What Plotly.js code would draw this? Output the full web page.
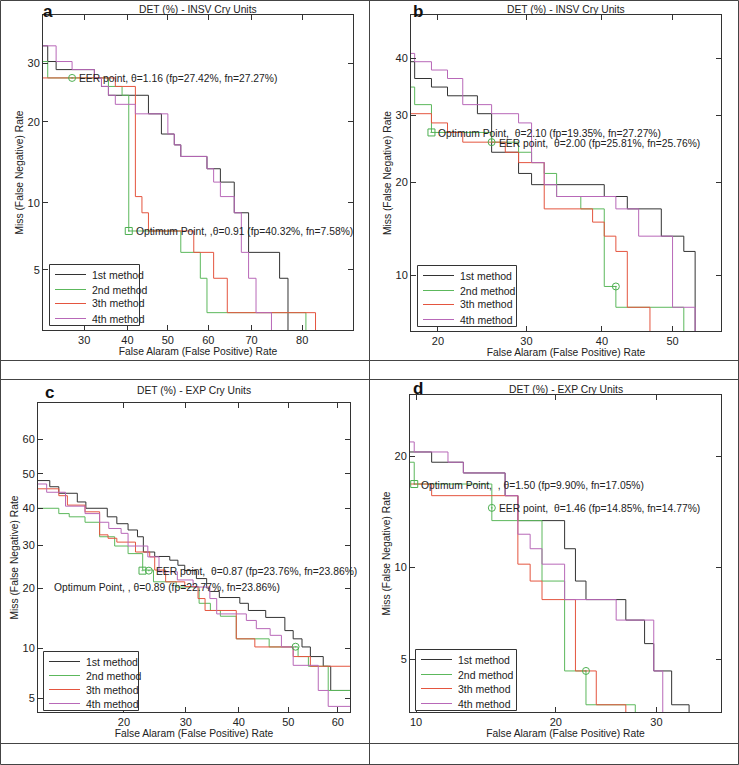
<!DOCTYPE html>
<html><head><meta charset="utf-8">
<script src="https://cdn.plot.ly/plotly-3.0.1.min.js"></script>
<style>html,body{margin:0;padding:0;background:#fff}#chart{width:739px;height:765px}</style>
</head><body><div id="chart"></div>
<script>
// ---------------- DATA (percent) ----------------
const methods = ['1st method', '2nd method', '3th method', '4th method'];

// Panel a: DET (%) - INSV Cry Units
const a_m1_fp = [20, 22.58, 24.19, 32.26, 33.87, 35.48, 45.16, 48.39, 51.61, 53.23, 59.68, 62.90, 66.13, 69.35, 75.81, 77.42];
const a_m1_fn = [33.33, 30.30, 28.79, 27.27, 25.76, 24.24, 21.21, 18.18, 16.67, 15.15, 13.64, 12.12, 9.09, 6.06, 4.55, 1.0];
const a_m2_fp = [20, 22.58, 35.48, 38.71, 40.32, 53.23, 58.06, 59.68, 80.65];
const a_m2_fn = [30.30, 27.27, 25.76, 24.24, 7.58, 6.06, 4.55, 3.03, 1.0];
const a_m3_fp = [20, 37.10, 41.94, 43.55, 45.16, 56.45, 61.29, 64.52, 82.26];
const a_m3_fn = [27.27, 25.76, 10.61, 9.09, 7.58, 6.06, 4.55, 3.03, 1.0];
const a_m4_fp = [20, 24.19, 27.42, 32.26, 33.87, 35.48, 37.10, 41.94, 50.00, 51.61, 53.23, 59.68, 61.29, 62.90, 66.13, 67.74, 69.35, 70.97, 74.19];
const a_m4_fn = [33.33, 30.30, 28.79, 27.27, 25.76, 24.24, 22.73, 21.21, 18.18, 16.67, 15.15, 13.64, 12.12, 10.61, 9.09, 6.06, 4.55, 3.03, 1.0];
const a_pts_fp = [27.42, 40.32];
const a_pts_fn = [27.27, 7.58];
const a_pts_sym = ['circle-open-dot', 'square-open-dot'];
const a_pts_txt = ['EER point, \u03b8=1.16 (fp=27.42%, fn=27.27%)', 'Optimum Point, ,\u03b8=0.91 (fp=40.32%, fn=7.58%)'];

// Panel b: DET (%) - INSV Cry Units
const b_m1_fp = [17, 17.74, 19.35, 20.97, 24.19, 25.81, 29.03, 30.65, 40.32, 43.55, 48.39, 51.61, 53.23];
const b_m1_fn = [39.39, 36.36, 34.85, 33.33, 30.30, 24.24, 21.21, 19.70, 18.18, 16.67, 13.64, 12.12, 3.0];
const b_m2_fp = [17, 17.74, 19.35, 25.81, 29.03, 30.65, 32.26, 33.87, 37.10, 40.32, 41.94, 51.61];
const b_m2_fn = [34.85, 31.82, 27.27, 25.76, 24.24, 22.73, 21.21, 18.18, 16.67, 9.09, 7.58, 3.0];
const b_m3_fp = [17, 19.35, 20.97, 22.58, 27.42, 29.03, 32.26, 38.71, 40.32, 41.94, 43.55, 46.77];
const b_m3_fn = [30.30, 28.79, 27.27, 25.76, 24.24, 22.73, 16.67, 15.15, 13.64, 12.12, 7.58, 3.0];
const b_m4_fp = [17, 17.74, 19.35, 20.97, 22.58, 25.81, 29.03, 30.65, 32.26, 33.87, 41.94, 45.16, 50.00, 53.23];
const b_m4_fn = [40.91, 39.39, 37.88, 36.36, 31.82, 30.30, 28.79, 22.73, 19.70, 18.18, 16.67, 13.64, 7.58, 3.0];
const b_pts_fp = [19.35, 25.81, 41.94];
const b_pts_fn = [27.27, 25.76, 9.09];
const b_pts_sym = ['square-open-dot', 'circle-open-dot', 'circle-open-dot'];
const b_pts_txt = ['Optimum Point,  \u03b8=2.10 (fp=19.35%, fn=27.27%)', 'EER point,  \u03b8=2.00 (fp=25.81%, fn=25.76%)', ''];

// Panel c: DET (%) - EXP Cry Units
const c_m1_fp = [9.5, 11.1, 12.0, 14.0, 15.0, 17.7, 19.0, 20.6, 22.0, 22.9, 24.7, 27.2, 28.6, 29.8, 31.9, 33.8, 34.3, 36.2, 40.2, 41.9, 45.4, 49.3, 51.0, 52.8, 54.5, 57.1, 58.6, 65];
const c_m1_fn = [48.0, 46.2, 44.3, 41.8, 40.0, 37.6, 35.7, 34.0, 32.2, 28.3, 27.2, 26.3, 25.1, 23.9, 22.1, 20.1, 19.4, 18.2, 17.1, 15.8, 14.6, 12.5, 11.3, 10.2, 9.0, 7.9, 5.6, 5.6];
const c_m2_fp = [9.5, 12.0, 13.1, 14.9, 16.7, 18.7, 20.6, 22.8, 24.5, 28.3, 32.4, 34.5, 36.4, 39.5, 46.1, 52.0, 54.1, 58.1, 65];
const c_m2_fn = [40.0, 38.5, 37.6, 36.1, 32.2, 29.8, 27.9, 24.0, 21.4, 20.3, 17.1, 15.8, 14.8, 11.3, 10.2, 9.0, 7.9, 5.6, 5.6];
const c_m3_fp = [9.5, 12.0, 12.9, 14.9, 16.7, 17.8, 19.0, 21.7, 23.9, 24.7, 26.5, 29.8, 32.2, 33.5, 39.5, 43.2, 51.0, 54.5, 65];
const c_m3_fn = [45.6, 43.6, 40.9, 39.0, 32.7, 31.8, 30.8, 28.3, 27.1, 24.0, 21.4, 20.4, 18.0, 15.8, 11.3, 10.2, 9.0, 7.9, 7.9];
const c_m4_fp = [9.5, 10.8, 12.7, 14.9, 16.7, 17.9, 19.6, 20.6, 23.6, 25.4, 28.5, 31.3, 34.4, 35.7, 41.5, 43.5, 46.3, 48.6, 51.0, 56.1, 58.1, 65];
const c_m4_fn = [47.0, 44.6, 40.6, 38.5, 36.1, 34.4, 33.1, 29.8, 27.1, 23.6, 21.8, 20.3, 18.0, 15.2, 14.1, 12.8, 11.8, 10.2, 8.0, 5.6, 4.4, 4.4];
const c_pts_fp = [23.76, 22.77, 51.49];
const c_pts_fn = [23.86, 23.86, 10.23];
const c_pts_sym = ['circle-open-dot', 'square-open-dot', 'circle-open-dot'];
const c_pts_txt = ['EER point,  \u03b8=0.87 (fp=23.76%, fn=23.86%)', '', ''];
const c_opt_label = 'Optimum Point, , \u03b8=0.89 (fp=22.77%, fn=23.86%)';

// Panel d: DET (%) - EXP Cry Units
const d_m1_fp = [9.5, 10.89, 12.87, 15.84, 16.83, 20.79, 21.78, 22.77, 26.73, 28.71, 29.70, 31.68, 33.66];
const d_m1_fn = [20.45, 19.32, 18.18, 15.91, 13.64, 11.36, 9.09, 7.95, 6.82, 5.68, 4.55, 3.41, 1.0];
const d_m2_fp = [9.5, 9.90, 14.85, 18.81, 20.79, 22.77, 27.72];
const d_m2_fn = [19.32, 17.05, 13.64, 9.09, 4.55, 3.41, 1.0];
const d_m3_fp = [9.5, 10.89, 16.83, 17.82, 18.81, 21.78, 23.76, 26.73];
const d_m3_fn = [17.05, 15.91, 10.23, 9.09, 7.95, 4.55, 3.41, 1.0];
const d_m4_fp = [9.5, 9.90, 11.88, 12.87, 15.84, 16.83, 17.82, 18.81, 20.79, 25.74, 29.70, 30.69];
const d_m4_fn = [21.59, 20.45, 19.32, 18.18, 15.91, 12.50, 11.36, 10.23, 7.95, 6.82, 4.55, 1.0];
const d_pts_fp = [9.90, 14.85, 22.77];
const d_pts_fn = [17.05, 14.77, 4.55];
const d_pts_sym = ['square-open-dot', 'circle-open-dot', 'circle-open-dot'];
const d_pts_txt = ['Optimum Point,  , \u03b8=1.50 (fp=9.90%, fn=17.05%)', 'EER point,  \u03b8=1.46 (fp=14.85%, fn=14.77%)', ''];

// tick labels
const a_xticks = [30, 40, 50, 60, 70, 80], a_yticks = [5, 10, 20, 30];
const b_xticks = [20, 30, 40, 50], b_yticks = [10, 20, 30, 40];
const c_xticks = [20, 30, 40, 50, 60], c_yticks = [5, 10, 20, 30, 40, 50, 60];
const d_xticks = [10, 20, 30], d_yticks = [5, 10, 20];

const titles = {a: 'DET (%) - INSV Cry Units', b: 'DET (%) - INSV Cry Units', c: 'DET (%) - EXP Cry Units', d: 'DET (%) - EXP Cry Units'};

// ---------------- probit (normal deviate) scale ----------------
function probit(p) {
  const a = [-3.969683028665376e+01, 2.209460984245205e+02, -2.759285104469687e+02, 1.383577518672690e+02, -3.066479806614716e+01, 2.506628277459239e+00];
  const b = [-5.447609879822406e+01, 1.615858368580409e+02, -1.556989798598866e+02, 6.680131188771972e+01, -1.328068155288572e+01];
  const c = [-7.784894002430293e-03, -3.223964580411365e-01, -2.400758277161838e+00, -2.549732539343734e+00, 4.374664141464968e+00, 2.938163982698783e+00];
  const d = [7.784695709041462e-03, 3.224671290700398e-01, 2.445134137142996e+00, 3.754408661907416e+00];
  const pl = 0.02425, ph = 1 - pl;
  let q, r;
  if (p < pl) { q = Math.sqrt(-2 * Math.log(p)); return (((((c[0]*q+c[1])*q+c[2])*q+c[3])*q+c[4])*q+c[5]) / ((((d[0]*q+d[1])*q+d[2])*q+d[3])*q+1); }
  if (p <= ph) { q = p - 0.5; r = q*q; return (((((a[0]*r+a[1])*r+a[2])*r+a[3])*r+a[4])*r+a[5])*q / (((((b[0]*r+b[1])*r+b[2])*r+b[3])*r+b[4])*r+1); }
  q = Math.sqrt(-2 * Math.log(1 - p)); return -(((((c[0]*q+c[1])*q+c[2])*q+c[3])*q+c[4])*q+c[5]) / ((((d[0]*q+d[1])*q+d[2])*q+d[3])*q+1);
}
const P = v => probit(v / 100);

// ---------------- layout geometry ----------------
const W = 739, H = 765;
const pxX = x => x / W, pxY = y => 1 - y / H;
const FONT = '"Liberation Sans", Arial, Helvetica, sans-serif';
const colors = ['#333333', '#5cb85c', '#e4553f', '#b868b8'];

const panels = [
  {id: 'a', ax: '', box: [43, 15, 353, 330], xr: [21.7, 87.7], yr: [2.44, 39.6], xt: a_xticks, yt: a_yticks,
   series: [[a_m1_fp, a_m1_fn], [a_m2_fp, a_m2_fn], [a_m3_fp, a_m3_fn], [a_m4_fp, a_m4_fn]],
   pts: [a_pts_fp, a_pts_fn, a_pts_sym, a_pts_txt], letter: [48, 12], title: [198, 10], leg: [49, 264, 139, 325]},
  {id: 'b', ax: '2', box: [411, 15, 721, 331], xr: [17.4, 56.9], yr: [6.1, 48.1], xt: b_xticks, yt: b_yticks,
   series: [[b_m1_fp, b_m1_fn], [b_m2_fp, b_m2_fn], [b_m3_fp, b_m3_fn], [b_m4_fp, b_m4_fn]],
   pts: [b_pts_fp, b_pts_fn, b_pts_sym, b_pts_txt], letter: [418, 12], title: [566, 10], leg: [417, 265, 516, 326]},
  {id: 'c', ax: '3', box: [38, 403, 350, 712], xr: [10.0, 62.4], yr: [4.03, 69.8], xt: c_xticks, yt: c_yticks,
   series: [[c_m1_fp, c_m1_fn], [c_m2_fp, c_m2_fn], [c_m3_fp, c_m3_fn], [c_m4_fp, c_m4_fn]],
   pts: [c_pts_fp, c_pts_fn, c_pts_sym, c_pts_txt], letter: [49, 393], title: [194, 391], leg: [43, 651, 138, 710]},
  {id: 'd', ax: '4', box: [410, 395, 721, 712], xr: [9.67, 37.4], yr: [3.2, 27.4], xt: d_xticks, yt: d_yticks,
   series: [[d_m1_fp, d_m1_fn], [d_m2_fp, d_m2_fn], [d_m3_fp, d_m3_fn], [d_m4_fp, d_m4_fn]],
   pts: [d_pts_fp, d_pts_fn, d_pts_sym, d_pts_txt], letter: [418, 388], title: [566, 389], leg: [415, 649, 516, 710]}
];

const traces = [];
const layout = {
  width: W, height: H, margin: {l: 0, r: 0, t: 0, b: 0}, paper_bgcolor: '#fff', plot_bgcolor: '#fff',
  font: {family: FONT, color: '#222', size: 11}, shapes: [], annotations: [], showlegend: false
};

panels.forEach((pn, pi) => {
  const xa = 'x' + pn.ax, ya = 'y' + pn.ax;
  pn.series.forEach((s, si) => {
    traces.push({
      type: 'scatter', mode: 'lines', x: s[0].map(P), y: s[1].map(P), xaxis: xa, yaxis: ya,
      line: {color: colors[si], width: 1, shape: 'hv'}, name: methods[si], showlegend: false,
      hoverinfo: 'skip', cliponaxis: true
    });
  });
  traces.push({
    type: 'scatter', mode: 'markers', x: pn.pts[0].map(P), y: pn.pts[1].map(P), xaxis: xa, yaxis: ya,
    marker: {symbol: pn.pts[2], size: 7, color: '#4caf50', line: {color: '#4caf50', width: 1}},
    showlegend: false, hoverinfo: 'skip'
  });
  pn.pts[3].forEach((t, i) => {
    if (!t) return;
    layout.annotations.push({xref: xa, yref: ya, x: P(pn.pts[0][i]), y: P(pn.pts[1][i]), text: t,
      showarrow: false, xanchor: 'left', yanchor: 'middle', xshift: 5, yshift: -1, font: {size: 10.3, color: '#222'}});
  });
  const [l, t, r, b] = pn.box;
  const axCommon = {showline: true, linecolor: '#333', linewidth: 1, mirror: 'allticks', ticks: 'inside', ticklen: 5,
    tickcolor: '#333', showgrid: false, zeroline: false, fixedrange: true, tickfont: {size: 11, color: '#222'}};
  layout['xaxis' + pn.ax] = Object.assign({}, axCommon, {
    domain: [pxX(l), pxX(r)], anchor: ya, range: pn.xr.map(P),
    tickmode: 'array', tickvals: pn.xt.map(P), ticktext: pn.xt.map(String),
    title: {text: 'False Alaram (False Positive) Rate', font: {size: 10.3}, standoff: 1}
  });
  layout['yaxis' + pn.ax] = Object.assign({}, axCommon, {
    domain: [pxY(b), pxY(t)], anchor: xa, range: pn.yr.map(P),
    tickmode: 'array', tickvals: pn.yt.map(P), ticktext: pn.yt.map(String),
    title: {text: 'Miss (False Negative) Rate', font: {size: 10.3}, standoff: 1}
  });
  // legend key drawn as a framed box with line samples and labels
  const [L, T, R, B] = pn.leg;
  layout.shapes.push({type: 'rect', xref: 'paper', yref: 'paper', x0: pxX(L + 0.5), x1: pxX(R + 0.5), y0: pxY(B + 0.5), y1: pxY(T + 0.5),
    line: {color: '#333', width: 1}, fillcolor: '#fff', layer: 'above'});
  const rowH = (B - T - 17) / 3;
  methods.forEach((m, si) => {
    const ry = Math.round(T + 10 + si * rowH) + 0.5;
    layout.shapes.push({type: 'line', xref: 'paper', yref: 'paper', x0: pxX(L + 6), x1: pxX(L + 37), y0: pxY(ry), y1: pxY(ry),
      line: {color: colors[si], width: 1}, layer: 'above'});
    layout.annotations.push({xref: 'paper', yref: 'paper', x: pxX(L + 41), y: pxY(ry), text: m, showarrow: false,
      xanchor: 'left', yanchor: 'middle', font: {size: 10.5, color: '#222'}});
  });
  layout.annotations.push({xref: 'paper', yref: 'paper', x: pxX(pn.letter[0]), y: pxY(pn.letter[1]), text: '<b>' + pn.id + '</b>',
    showarrow: false, xanchor: 'center', yanchor: 'middle', font: {size: 17, color: '#111'}});
  layout.annotations.push({xref: 'paper', yref: 'paper', x: pxX(pn.title[0]), y: pxY(pn.title[1]), text: titles[pn.id],
    showarrow: false, xanchor: 'center', yanchor: 'middle', font: {size: 10.3, color: '#222'}});
});

// optimum label in panel c is placed off its point
layout.annotations.push({xref: 'x3', yref: 'y3', x: P(11.27), y: P(20.25), text: c_opt_label,
  showarrow: false, xanchor: 'left', yanchor: 'middle', font: {size: 10.3, color: '#222'}});

// table frame
const hl = (y) => ({type: 'line', xref: 'paper', yref: 'paper', x0: 0, x1: 1, y0: pxY(y), y1: pxY(y), line: {color: '#444', width: 1}});
layout.shapes.push({type: 'rect', xref: 'paper', yref: 'paper', x0: pxX(0.5), x1: pxX(738.5), y0: pxY(764.5), y1: pxY(0.5), line: {color: '#444', width: 1}});
layout.shapes.push({type: 'line', xref: 'paper', yref: 'paper', x0: pxX(369.5), x1: pxX(369.5), y0: 0, y1: 1, line: {color: '#444', width: 1}});
layout.shapes.push(hl(360.5), hl(379.5), hl(743.5));

Plotly.newPlot('chart', traces, layout, {staticPlot: true, displayModeBar: false});
</script>
</body></html>
